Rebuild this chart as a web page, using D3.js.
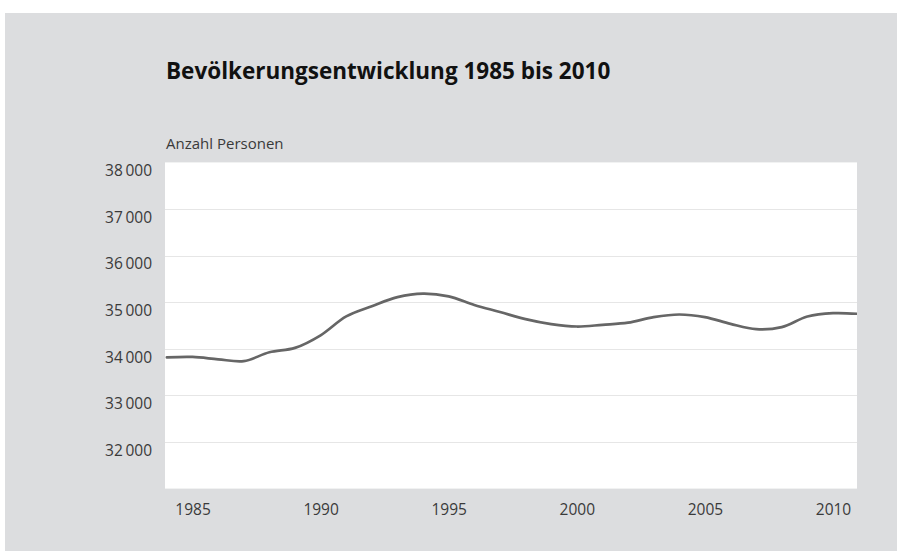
<!DOCTYPE html>
<html>
<head>
<meta charset="utf-8">
<script src="https://cdn.jsdelivr.net/npm/d3@7"></script>
<style>
  html, body { margin: 0; padding: 0; background: #ffffff; }
  svg { display: block; }
  text { font-family: "Open Sans", "Noto Sans", sans-serif; }
</style>
</head>
<body>
<svg id="chart" width="897" height="551"></svg>
<script>
const title = "Bevölkerungsentwicklung 1985 bis 2010";
const yAxisTitle = "Anzahl Personen";
const years = [1984, 1985, 1986, 1987, 1988, 1989, 1990, 1991, 1992, 1993, 1994, 1995, 1996, 1997,
               1998, 1999, 2000, 2001, 2002, 2003, 2004, 2005, 2006, 2007, 2008, 2009, 2010, 2011];
const population = [33815, 33825, 33775, 33735, 33925, 34020, 34290, 34695, 34915, 35110, 35185, 35125, 34940, 34790,
                    34637, 34530, 34478, 34515, 34560, 34680, 34736, 34680, 34536, 34422, 34465, 34693, 34765, 34750];
const yTicks = [32000, 33000, 34000, 35000, 36000, 37000, 38000];
const xTicks = [1985, 1990, 1995, 2000, 2005, 2010];

const svg = d3.select("#chart");
const W = 897, H = 551;
const plot = { left: 165, right: 857, top: 162.4, bottom: 488.6 };

svg.append("rect").attr("x", 5).attr("y", 13).attr("width", W - 5).attr("height", H - 13).attr("fill", "#dcdddf");

svg.append("rect").attr("x", plot.left).attr("y", plot.top)
  .attr("width", plot.right - plot.left).attr("height", plot.bottom - plot.top).attr("fill", "#ffffff");

const x = d3.scaleLinear().domain([1984, 2011]).range([166.9, 858.6]);
const y = d3.scaleLinear().domain([31000, 38000]).range([plot.bottom, plot.top]);

// gridlines
svg.append("g").selectAll("line").data(yTicks.filter(d => d < 38000)).join("line")
  .attr("x1", plot.left).attr("x2", plot.right)
  .attr("y1", d => Math.round(y(d)) + 0.5).attr("y2", d => Math.round(y(d)) + 0.5)
  .attr("stroke", "#e6e6e6").attr("stroke-width", 1);

// y axis labels
const fmt = d => { const s = String(d); return s.slice(0, s.length - 3) + "\u2009" + s.slice(-3); };
const yAxis = d3.axisLeft(y).tickValues(yTicks).tickFormat(fmt).tickSize(0).tickPadding(0);
const gy = svg.append("g").attr("transform", `translate(152,0)`).call(yAxis);
gy.select(".domain").remove();
gy.selectAll("text").attr("font-size", "15.5px").attr("fill", "#3a3a3a")
  .attr("font-family", "'Open Sans', sans-serif").attr("dy", "13.3px");

// x axis labels
const xAxis = d3.axisBottom(x).tickValues(xTicks).tickFormat(d3.format("d")).tickSize(0).tickPadding(0);
const gx = svg.append("g").attr("transform", `translate(0,${plot.bottom})`).call(xAxis);
gx.select(".domain").remove();
gx.selectAll("text").attr("font-size", "15.5px").attr("fill", "#3a3a3a")
  .attr("font-family", "'Open Sans', sans-serif").attr("dy", "0").attr("y", 26);

// clip
svg.append("clipPath").attr("id", "clip").append("rect")
  .attr("x", plot.left).attr("y", plot.top).attr("width", plot.right - plot.left).attr("height", plot.bottom - plot.top);

const line = d3.line().x((d, i) => x(years[i])).y(d => y(d)).curve(d3.curveCatmullRom.alpha(0.5));
svg.append("path").datum(population).attr("clip-path", "url(#clip)")
  .attr("d", line).attr("fill", "none").attr("stroke", "#666666").attr("stroke-width", 2.7)
  .attr("stroke-linejoin", "round").attr("stroke-linecap", "round");

// titles
svg.append("text").attr("x", 166).attr("y", 79).attr("font-size", "22.5px").attr("font-weight", "bold")
  .attr("fill", "#111111").text(title);
svg.append("text").attr("x", 166).attr("y", 149).attr("font-size", "15px").attr("fill", "#3a3a3a")
  .text(yAxisTitle);
</script>
</body>
</html>
